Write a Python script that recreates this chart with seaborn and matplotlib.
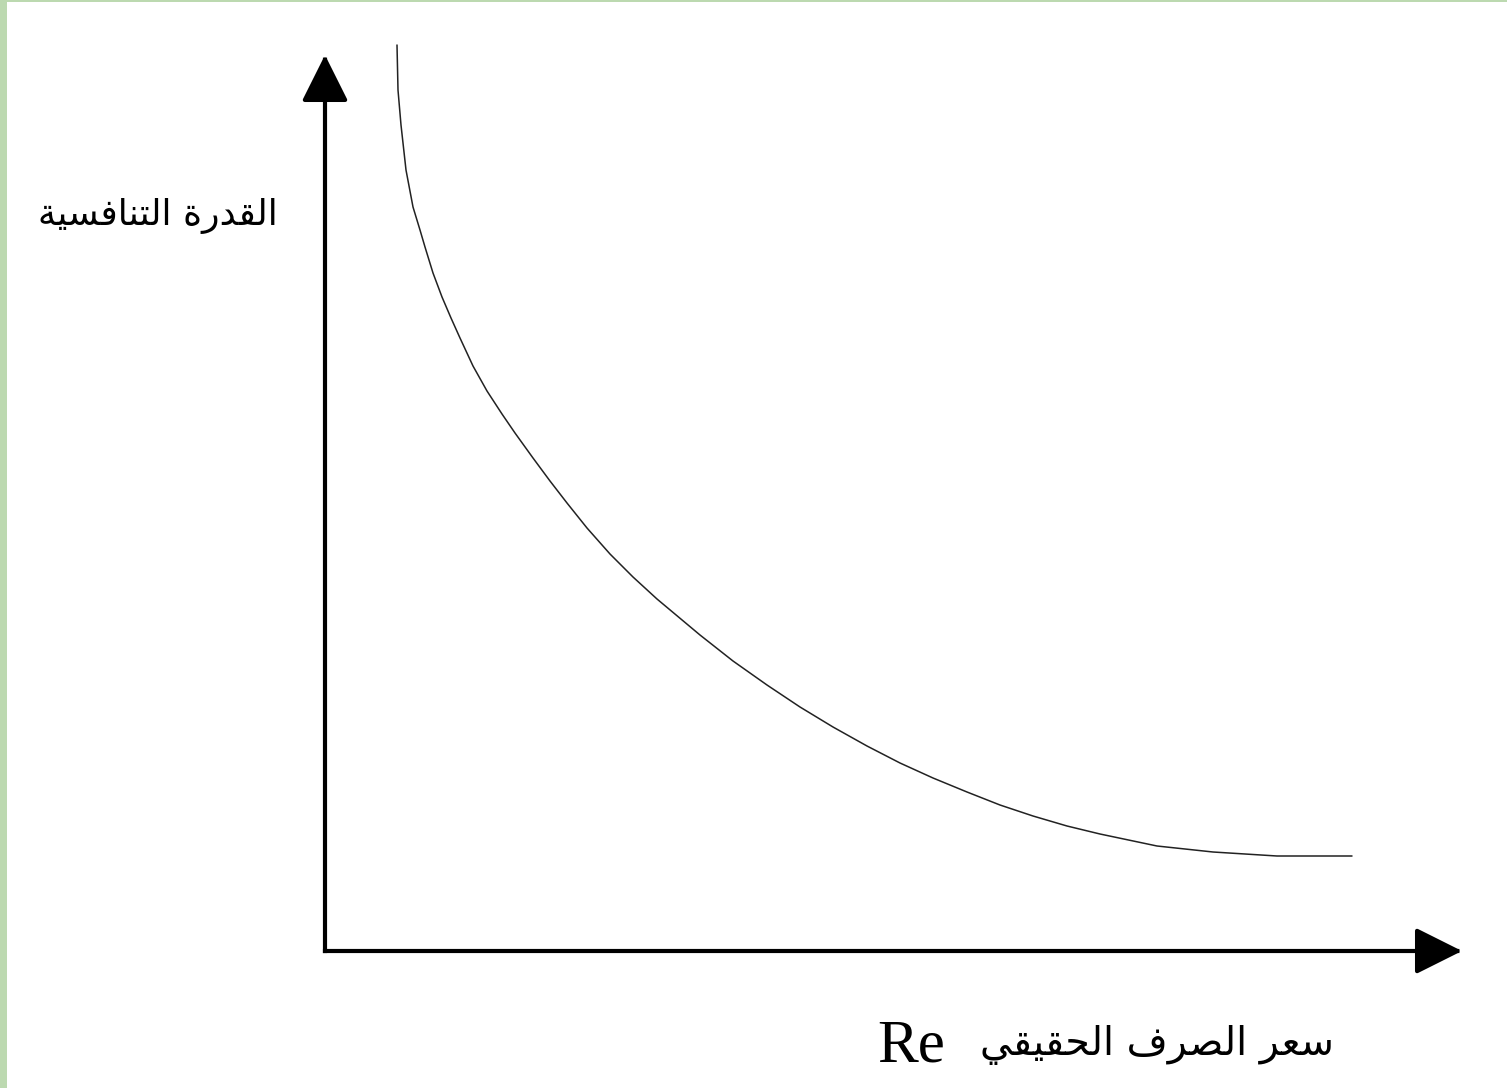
import numpy as np
import pandas as pd
import matplotlib
matplotlib.use("Agg")
import matplotlib.pyplot as plt
import seaborn as sns

# Curve (pixel-like coordinates, y grows downward)
curve_x = [397, 398, 401, 406, 413, 420, 425, 433, 442, 451, 460, 473, 487,
           502, 515, 533, 550, 567, 587, 610, 633, 657, 700, 733, 767, 800,
           833, 867, 900, 933, 967, 1000, 1033, 1067, 1100, 1157, 1213, 1277, 1352]
curve_y = [45, 90, 125, 170, 207, 230, 247, 273, 297, 318, 338, 366, 391,
           414, 433, 458, 481, 503, 528, 554, 577, 599, 635, 661, 685, 707,
           727, 746, 763, 778, 792, 805, 816, 826, 834, 846, 852, 856, 856]

# Labels: "القدرة التنافسية" and "سعر الصرف الحقيقي",
# written in visual order with Arabic presentation forms so they render joined
y_label = "\uFE94\uFEF4\uFEB4\uFED3\uFE8E\uFEE8\uFE98\uFEDF\uFE8D \uFE93\uFEAD\uFEAA\uFED8\uFEDF\uFE8D"
x_label = "\uFEF2\uFED8\uFEF4\uFED8\uFEA4\uFEDF\uFE8D \uFED1\uFEAE\uFEBC\uFEDF\uFE8D \uFEAE\uFECC\uFEB3"
x_symbol = "Re"

sns.set_theme(style="white")
plt.rcParams['font.family'] = ['DejaVu Sans']

W, H = 1507, 1088
fig = plt.figure(figsize=(W / 100, H / 100), dpi=100)
ax = fig.add_axes([0, 0, 1, 1])

# green slide border
ax.add_patch(plt.Rectangle((0, 0), 7, H, color="#bcd9b0", zorder=0, lw=0))
ax.add_patch(plt.Rectangle((0, 0), W, 2, color="#bcd9b0", zorder=0, lw=0))

# axes with arrows
arrow_kw = dict(arrowstyle="-|>,head_length=29,head_width=14.5", lw=3.0,
                color="black", shrinkA=0, shrinkB=0, mutation_scale=1,
                capstyle="projecting")
ax.annotate("", xy=(325, 55), xytext=(325, 951), arrowprops=arrow_kw)
ax.annotate("", xy=(1462, 951), xytext=(325, 951), arrowprops=arrow_kw)

df = pd.DataFrame({"x": curve_x, "y": curve_y})
sns.lineplot(data=df, x="x", y="y", ax=ax, sort=False, color="#222222",
             lw=1.1, solid_joinstyle="round")
ax.set_xlim(0, W)
ax.set_ylim(H, 0)
ax.axis("off")

ax.text(278, 225, y_label, ha="right", va="baseline", fontsize=26,
        family=["DejaVu Sans"], color="black")
ax.text(1334, 1055, x_label, ha="right", va="baseline", fontsize=28.5,
        family=["DejaVu Sans"], color="black")
ax.text(945, 1061, x_symbol, ha="right", va="baseline", fontsize=44,
        family=["Liberation Serif"], color="black")

fig.savefig("out.png", dpi=100)
